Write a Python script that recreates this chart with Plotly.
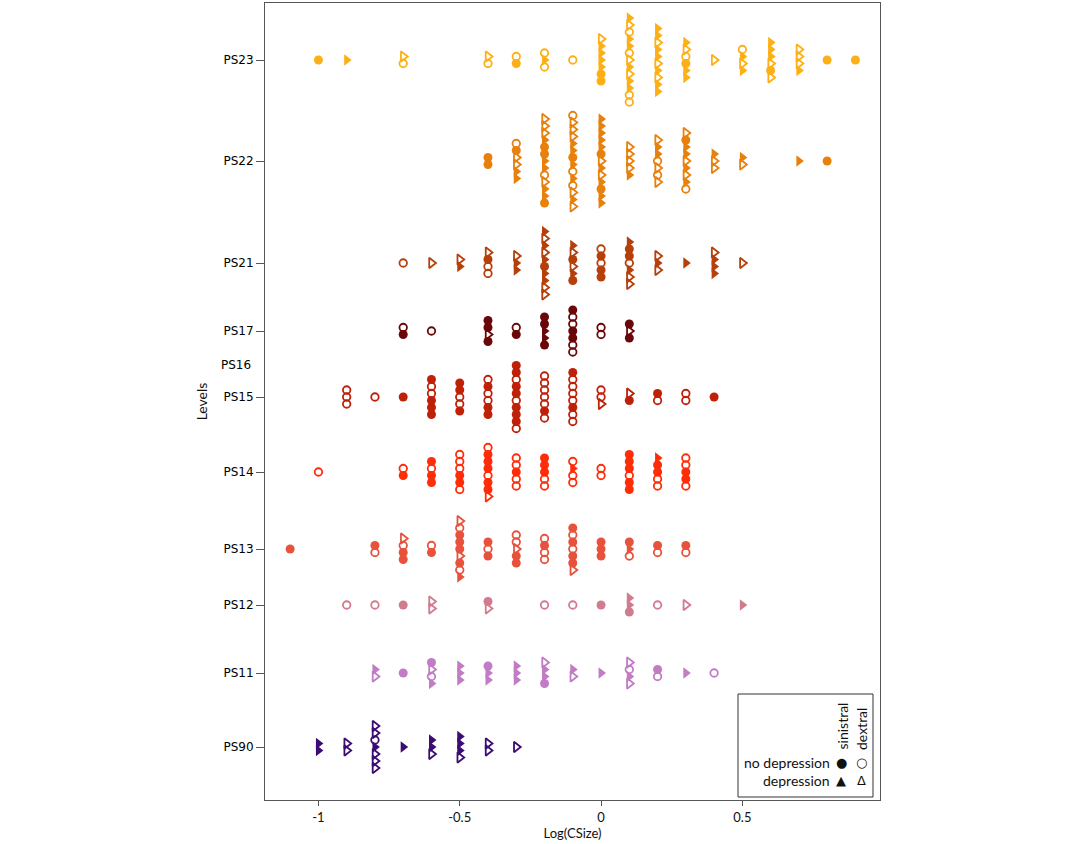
import plotly.graph_objects as go

# ---------------- data ----------------
# codes: F = sinistral / no depression, O = dextral / no depression,
#        T = sinistral / depression,    t = dextral / depression
LEVELS = ["PS23", "PS22", "PS21", "PS17", "PS16", "PS15", "PS14", "PS13", "PS12", "PS11", "PS90"]
COLORS = ["#FDB015", "#E8810C", "#B63F0A", "#6A0809", "#BF2008", "#BF2008",
          "#FF2C08", "#E8523C", "#D07B8E", "#C27CC6", "#3C0C74"]

PS23_X = [-1.0, -0.9, -0.7, -0.4, -0.3, -0.2, -0.1, 0.0, 0.1, 0.2, 0.3, 0.4, 0.5, 0.6, 0.7, 0.8, 0.9]
PS23_S = ["F", "T", "tO", "tO", "OF", "OTO", "O", "tTTTTFF", "TtOTTOtTtTTOO", "TTtTTtTtTT",
          "TtOFTT", "t", "OTtT", "TTTtFt", "tttT", "F", "F"]

PS22_X = [-0.4, -0.3, -0.2, -0.1, 0.0, 0.1, 0.2, 0.3, 0.4, 0.5, 0.7, 0.8]
PS22_S = ["FF", "OFttTT", "tttTFFTTOtTTF", "OtttTTFTOTOtTt", "TTTTTFtTtTFTT", "ttttT",
          "tTTOtOt", "tFTTtTtTO", "Ttt", "Tt", "T", "F"]

PS21_X = [-0.7, -0.6, -0.5, -0.4, -0.3, -0.2, -0.1, 0.0, 0.1, 0.2, 0.3, 0.4, 0.5]
PS21_S = ["O", "t", "tT", "tFOO", "tTT", "TtTtTFTTtt", "TtFtTF", "OFOFF", "TFFOTtt",
          "tTt", "T", "tTTT", "t"]

PS17_X = [-0.7, -0.6, -0.4, -0.3, -0.2, -0.1, 0.0, 0.1]
PS17_S = ["OF", "O", "FFtF", "OF", "FFTTF", "FOOFFOO", "OO", "FtF"]

PS16_X = []
PS16_S = []

PS15_X = [-0.9, -0.8, -0.7, -0.6, -0.5, -0.4, -0.3, -0.2, -0.1, 0.0, 0.1, 0.2, 0.3, 0.4]
PS15_S = ["OOO", "O", "F", "FOOFFF", "FFOOF", "OFOOFF", "FFOFFOFFFO", "OOOOOFO",
          "FOOOOFOO", "OOt", "tF", "FO", "OO", "F"]

PS14_X = [-1.0, -0.7, -0.6, -0.5, -0.4, -0.3, -0.2, -0.1, 0.0, 0.1, 0.2, 0.3]
PS14_S = ["O", "OF", "FOFF", "OOOFFO", "OFFFOFFt", "OOFOO", "FFFOO", "OTOO", "OO",
          "FFFOFF", "TFFOO", "OOFFO"]

PS13_X = [-1.1, -0.8, -0.7, -0.6, -0.5, -0.4, -0.3, -0.2, -0.1, 0.0, 0.1, 0.2, 0.3]
PS13_S = ["F", "FO", "tOFF", "OF", "tOFFFtFOT", "FOF", "OOtFF", "OFOO", "FOFOFFt",
          "FFF", "FTO", "FO", "FO"]

PS12_X = [-0.9, -0.8, -0.7, -0.6, -0.4, -0.2, -0.1, 0.0, 0.1, 0.2, 0.3, 0.5]
PS12_S = ["O", "O", "F", "tt", "Ft", "O", "O", "F", "TTF", "O", "t", "T"]

PS11_X = [-0.8, -0.7, -0.6, -0.5, -0.4, -0.3, -0.2, -0.1, 0.0, 0.1, 0.2, 0.3, 0.4]
PS11_S = ["Tt", "F", "FtOT", "TTT", "FTT", "TTT", "tTTF", "Tt", "T", "tOTt", "FO", "T", "O"]

PS90_X = [-1.0, -0.9, -0.8, -0.7, -0.6, -0.5, -0.4, -0.3]
PS90_S = ["TT", "tt", "ttOTttt", "T", "TTt", "TTTt", "tt", "t"]

X_TICKS = [-1, -0.5, 0, 0.5]
X_TICK_LABELS = ["-1", "-0.5", "0", "0.5"]

# ---------------- layout helpers ----------------
# vertical position (in plot pixel rows, top = small) of each level's row
ROW_POS = {"PS23": 60, "PS22": 161, "PS21": 263, "PS17": 331, "PS16": 365, "PS15": 397,
           "PS14": 472, "PS13": 549, "PS12": 605, "PS11": 673, "PS90": 747}
STEP = 7  # vertical spacing between stacked markers

SYMBOLS = {"F": "circle", "O": "circle-open", "T": "triangle-right", "t": "triangle-right-open"}
SIZES = {"F": 9, "O": 7.5, "T": 10, "t": 9}

level_data = {
    "PS23": (PS23_X, PS23_S), "PS22": (PS22_X, PS22_S), "PS21": (PS21_X, PS21_S),
    "PS17": (PS17_X, PS17_S), "PS16": (PS16_X, PS16_S), "PS15": (PS15_X, PS15_S),
    "PS14": (PS14_X, PS14_S), "PS13": (PS13_X, PS13_S), "PS12": (PS12_X, PS12_S),
    "PS11": (PS11_X, PS11_S), "PS90": (PS90_X, PS90_S),
}

fig = go.Figure()
for lvl, col in zip(LEVELS, COLORS):
    xs, stacks = level_data[lvl]
    center = ROW_POS[lvl]
    pts = {k: ([], []) for k in SYMBOLS}
    for x, s in zip(xs, stacks):
        n = len(s)
        for i, c in enumerate(s):
            y = center - ((n - 1) / 2 - i) * STEP
            pts[c][0].append(x)
            pts[c][1].append(y)
    for code, (px, py) in pts.items():
        if not px:
            continue
        fig.add_trace(go.Scatter(
            x=px, y=py, mode="markers", showlegend=False, hoverinfo="skip",
            marker=dict(symbol=SYMBOLS[code], size=SIZES[code], color=col,
                        line=dict(width=1.8 if code in "Ot" else 0, color=col)),
        ))

L, R, T, B = 265, 200, 3, 44
W, H = 1080, 844
PW, PH = W - L - R, H - T - B


def pxp(px):
    return (px - L) / PW


def pyp(py):
    return (H - B - py) / PH


tick_levels = [l for l in LEVELS if l != "PS16"]
fig.update_layout(
    width=W, height=H, margin=dict(l=L, r=R, t=T, b=B),
    plot_bgcolor="white", paper_bgcolor="white",
    xaxis=dict(range=[-1.189, 0.987], tickvals=X_TICKS, ticktext=X_TICK_LABELS,
               showgrid=False, zeroline=False, showline=True, mirror=True,
               linecolor="#555", linewidth=1, ticks="outside", ticklen=5, tickcolor="#555",
               tickfont=dict(family="Lato", size=13, color="#111"),
               title=dict(text="Log(CSize)", font=dict(family="Lato", size=13, color="#111"),
                          standoff=2),
               automargin=False),
    yaxis=dict(range=[H - B - T + 3, 3], tickvals=[ROW_POS[l] for l in tick_levels],
               ticktext=tick_levels,
               showgrid=False, zeroline=False, showline=True, mirror=True,
               linecolor="#555", linewidth=1, ticks="outside", ticklen=8, tickcolor="#555",
               tickfont=dict(family="DejaVu Sans", size=12, color="#000"),
               title=dict(text="Levels", font=dict(family="Lato", size=14, color="#111"),
                          standoff=12),
               automargin=False),
)

# PS16 label without tick
fig.add_annotation(text="PS16", xref="paper", yref="paper", x=pxp(253), y=pyp(365),
                   xanchor="right", yanchor="middle", showarrow=False,
                   font=dict(family="DejaVu Sans", size=12, color="#000"))

# legend box
fig.add_shape(type="rect", xref="paper", yref="paper",
              x0=pxp(738), x1=pxp(873), y0=pyp(797), y1=pyp(694),
              line=dict(color="#333", width=1), fillcolor="white")
lf = dict(family="Lato", size=14, color="#111")
fig.add_annotation(text="sinistral", textangle=-90, xref="paper", yref="paper",
                   x=pxp(842), y=pyp(752), xanchor="center", yanchor="bottom",
                   showarrow=False, font=lf)
fig.add_annotation(text="dextral", textangle=-90, xref="paper", yref="paper",
                   x=pxp(861), y=pyp(752), xanchor="center", yanchor="bottom",
                   showarrow=False, font=lf)
fig.add_annotation(text="no depression", xref="paper", yref="paper",
                   x=pxp(832), y=pyp(762), xanchor="right", yanchor="middle",
                   showarrow=False, font=lf)
fig.add_annotation(text="depression", xref="paper", yref="paper",
                   x=pxp(832), y=pyp(780), xanchor="right", yanchor="middle",
                   showarrow=False, font=lf)
for txt, x, y in [("●", 841, 762), ("○", 861, 762), ("▲", 841, 780), ("Δ", 861, 780)]:
    fig.add_annotation(text=txt, xref="paper", yref="paper", x=pxp(x), y=pyp(y),
                       xanchor="center", yanchor="middle", showarrow=False,
                       font=dict(family="DejaVu Sans", size=13, color="#111"))

fig.write_html("out.html", config={"displayModeBar": False},
               post_script="document.body.style.margin='0';")
